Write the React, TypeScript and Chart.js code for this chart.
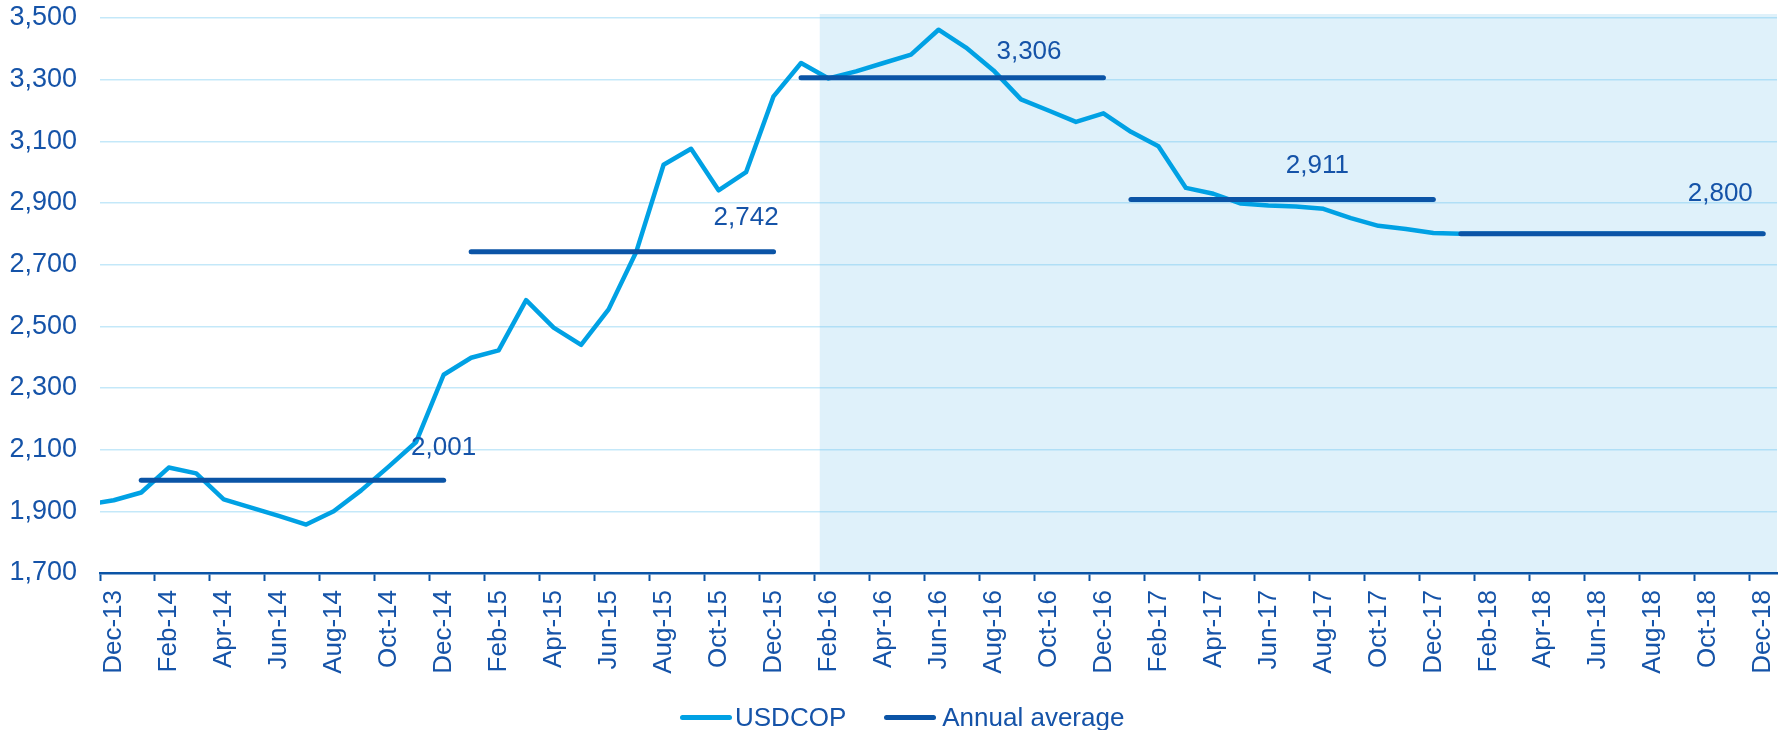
import { useEffect, useRef } from 'react';
import { Chart, registerables } from 'chart.js';

Chart.register(...registerables);

// Monthly categories (Nov-13 and Jan-19 sit just outside the visible range)
const months = [
  'Nov-13', 'Dec-13',
  'Jan-14', 'Feb-14', 'Mar-14', 'Apr-14', 'May-14', 'Jun-14', 'Jul-14', 'Aug-14', 'Sep-14', 'Oct-14', 'Nov-14', 'Dec-14',
  'Jan-15', 'Feb-15', 'Mar-15', 'Apr-15', 'May-15', 'Jun-15', 'Jul-15', 'Aug-15', 'Sep-15', 'Oct-15', 'Nov-15', 'Dec-15',
  'Jan-16', 'Feb-16', 'Mar-16', 'Apr-16', 'May-16', 'Jun-16', 'Jul-16', 'Aug-16', 'Sep-16', 'Oct-16', 'Nov-16', 'Dec-16',
  'Jan-17', 'Feb-17', 'Mar-17', 'Apr-17', 'May-17', 'Jun-17', 'Jul-17', 'Aug-17', 'Sep-17', 'Oct-17', 'Nov-17', 'Dec-17',
  'Jan-18', 'Feb-18', 'Mar-18', 'Apr-18', 'May-18', 'Jun-18', 'Jul-18', 'Aug-18', 'Sep-18', 'Oct-18', 'Nov-18', 'Dec-18',
  'Jan-19',
];

const usdcop = [
  1921, 1936,
  1961, 2042, 2023, 1939, 1912, 1885, 1857, 1900, 1968, 2045, 2125, 2343,
  2398, 2422, 2585, 2496, 2440, 2555, 2740, 3024, 3076, 2941, 3000, 3246,
  3354, 3304, 3327, 3354, 3381, 3462, 3404, 3330, 3236, 3200, 3163, 3191,
  3131, 3084, 2949, 2930, 2898, 2892, 2889, 2881, 2851, 2826, 2816, 2803,
  2800, 2800, 2800, 2800, 2800, 2800, 2800, 2800, 2800, 2800, 2800, 2800,
  2800,
];

const avgYears = ['14', '15', '16', '17', '18'];
const avgValues = [2001, 2742, 3306, 2911, 2800];

const firstMonth = 'Dec-13';
const lastMonth = 'Dec-18';
const yMin = 1700;
const yMax = 3500;
const yStep = 200;

const legendLabels = ['USDCOP', 'Annual average'];

// Styles
const LIGHT = '#00a1e4';
const DARK = '#0b54a6';
const TEXT = '#1553a8';
const GRID = 'rgba(100, 195, 240, 0.38)';
const SHADE = '#dff1fa';
const FONT = '"Liberation Sans", Arial, sans-serif';

// Placement of the annual-average value labels (anchor month, pixel offsets)
const avgLabelPlacement = [
  { at: 'Dec-14', dx: 0, dy: -32 },
  { at: 'Nov-15', dx: 0, dy: -34 },
  { at: 'Sep-16', dx: 8, dy: -26 },
  { at: 'Aug-17', dx: -6, dy: -34 },
  { at: 'Oct-18', dx: 12, dy: -40 },
];
const shadeFrom = { at: 'Jan-16', frac: 0.68 };

const fmt = (v: number) => v.toLocaleString('en-US');

const shadePlugin = {
  id: 'shade',
  beforeDraw(chart: any) {
    const { ctx, chartArea, scales } = chart;
    const x0 = scales.x.getPixelForValue(months.indexOf(shadeFrom.at) + shadeFrom.frac);
    ctx.save();
    ctx.fillStyle = SHADE;
    ctx.fillRect(x0, chartArea.top - 4, chartArea.right - x0, chartArea.bottom - chartArea.top + 4);
    ctx.restore();
  },
};

const avgLabelPlugin = {
  id: 'avgLabels',
  afterDatasetsDraw(chart: any) {
    const { ctx, scales } = chart;
    ctx.save();
    ctx.font = `26px ${FONT}`;
    ctx.fillStyle = TEXT;
    ctx.textAlign = 'center';
    ctx.textBaseline = 'middle';
    avgValues.forEach((v, k) => {
      const p = avgLabelPlacement[k];
      const x = scales.x.getPixelForValue(months.indexOf(p.at)) + p.dx;
      const y = scales.y.getPixelForValue(v) + p.dy;
      ctx.fillText(fmt(v), x, y);
    });
    ctx.restore();
  },
};

export default function App() {
  const ref = useRef<HTMLCanvasElement>(null);

  useEffect(() => {
    document.body.style.margin = '0';
    document.body.style.overflow = 'hidden';
    const canvas = ref.current!;

    const avgDatasets = avgYears.map((yy, k) => ({
      label: 'Annual average',
      data: months.map((m) => (m.endsWith('-' + yy) ? avgValues[k] : null)),
      borderColor: DARK,
      backgroundColor: DARK,
      borderWidth: 5,
      borderCapStyle: 'round' as const,
      pointRadius: 0,
      order: 0,
      clip: 0,
      spanGaps: false,
    }));

    const chart = new Chart(canvas, {
      type: 'line',
      data: {
        labels: months,
        datasets: [
          {
            label: 'USDCOP',
            data: usdcop,
            borderColor: LIGHT,
            backgroundColor: LIGHT,
            borderWidth: 4.5,
            borderJoinStyle: 'round',
            pointRadius: 0,
            order: 1,
            clip: 0,
            tension: 0,
          },
          ...avgDatasets,
        ],
      },
      options: {
        animation: false,
        responsive: false,
        devicePixelRatio: 1,
        layout: { padding: { top: 18, right: 3, left: 0, bottom: 0 } },
        plugins: {
          legend: { display: false },
          tooltip: { enabled: false },
        },
        scales: {
          x: {
            type: 'category',
            min: firstMonth,
            max: lastMonth,
            offset: true,
            grid: {
              offset: true,
              drawOnChartArea: false,
              drawTicks: true,
              tickLength: 8,
              tickWidth: 2,
              tickColor: (c: any) => (c.tick && c.index % 2 === 0 ? DARK : 'rgba(0,0,0,0)'),
              color: (c: any) => (c.tick && c.index % 2 === 0 ? DARK : 'rgba(0,0,0,0)'),
            },
            border: { display: true, color: DARK, width: 2.5 },
            ticks: {
              autoSkip: false,
              minRotation: 90,
              maxRotation: 90,
              padding: 9,
              color: TEXT,
              font: { family: FONT, size: 26 },
              callback: function (this: any, value: any, index: number) {
                return index % 2 === 0 ? this.getLabelForValue(value) : '';
              },
            },
            afterFit: (s: any) => {
              s.height = 157;
              s.paddingLeft = 0;
              s.paddingRight = 0;
            },
          },
          y: {
            min: yMin,
            max: yMax,
            ticks: {
              stepSize: yStep,
              padding: 23,
              color: TEXT,
              font: { family: FONT, size: 27 },
              callback: (v: any) => fmt(Number(v)),
            },
            grid: { color: GRID, lineWidth: 1.5, drawTicks: false },
            border: { display: false },
            afterFit: (s: any) => {
              s.width = 100;
              s.paddingTop = 0;
              s.paddingBottom = 0;
            },
          },
        },
      },
      plugins: [shadePlugin, avgLabelPlugin],
    });

    return () => chart.destroy();
  }, []);

  const sample = (color: string) => (
    <span
      style={{
        display: 'inline-block',
        width: 52,
        height: 5,
        borderRadius: 3,
        background: color,
      }}
    />
  );

  return (
    <div style={{ position: 'relative', width: 1780, height: 730 }}>
      <canvas ref={ref} width={1780} height={730} style={{ display: 'block', width: 1780, height: 730 }} />
      <div
        style={{
          position: 'absolute',
          left: 680,
          top: 702,
          height: 30,
          display: 'flex',
          alignItems: 'center',
          fontFamily: FONT,
          fontSize: 26,
          lineHeight: '30px',
          color: TEXT,
          whiteSpace: 'nowrap',
        }}
      >
        {sample(LIGHT)}
        <span style={{ marginLeft: 3, marginRight: 38 }}>{legendLabels[0]}</span>
        {sample(DARK)}
        <span style={{ marginLeft: 6 }}>{legendLabels[1]}</span>
      </div>
    </div>
  );
}
